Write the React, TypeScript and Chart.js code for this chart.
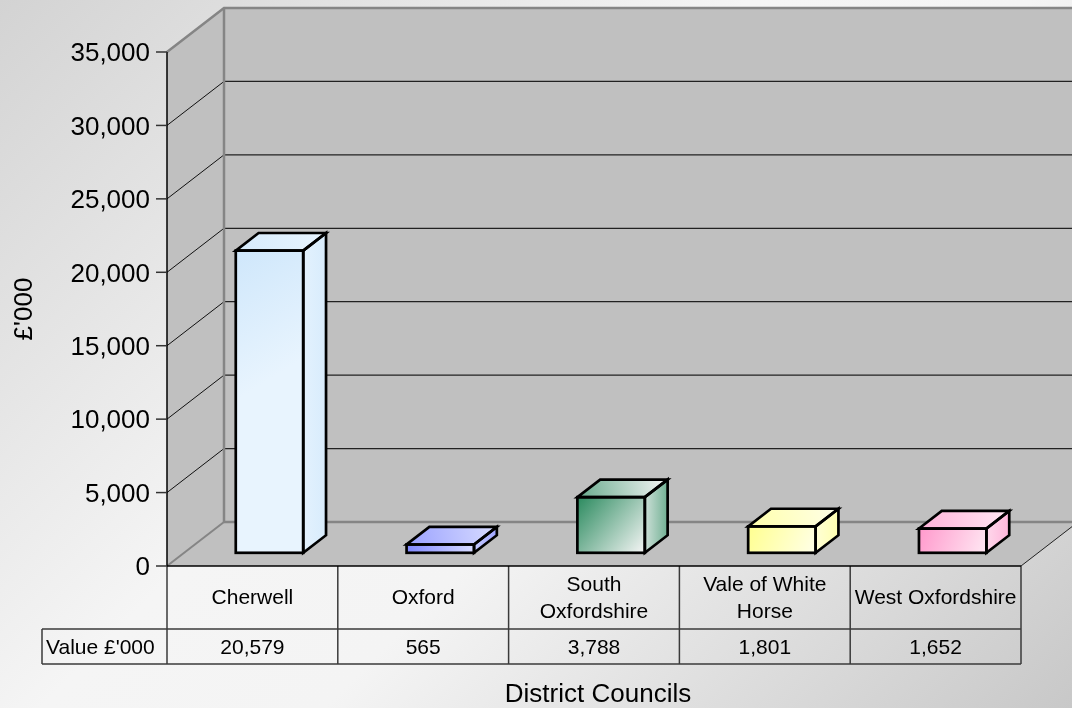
import { useEffect, useRef } from 'react';
import { Chart, registerables } from 'chart.js';

Chart.register(...registerables);

// ---- data ----
const categories = ['Cherwell', 'Oxford', 'South Oxfordshire', 'Vale of White Horse', 'West Oxfordshire'];
const values = [20579, 565, 3788, 1801, 1652];
const seriesLabel = "Value £'000";
const yTitle = "£'000";
const xTitle = 'District Councils';
const yMin = 0;
const yMax = 35000;
const yStep = 5000;
const barBase = ['#cfe7fb', '#8088ff', '#2a8a5e', '#ffff90', '#ff99cc'];
const barLight = ['#e8f4fe', '#d8dcff', '#f6f6f6', '#ffffe8', '#ffe8f3'];

const FONT = '"Liberation Sans", Arial, Helvetica, sans-serif';
const DX = 57;
const DY = -44;
const FRONT = 0.3;
const DEPTH = 0.4;

function mix(a: string, b: string, t: number) {
  const pa = parseInt(a.slice(1), 16);
  const pb = parseInt(b.slice(1), 16);
  const ch = (p: number, s: number) => (p >> s) & 255;
  const r = Math.round(ch(pa, 16) * (1 - t) + ch(pb, 16) * t);
  const g = Math.round(ch(pa, 8) * (1 - t) + ch(pb, 8) * t);
  const bl = Math.round(ch(pa, 0) * (1 - t) + ch(pb, 0) * t);
  return `rgb(${r},${g},${bl})`;
}

function poly(ctx: CanvasRenderingContext2D, pts: number[][]) {
  ctx.beginPath();
  ctx.moveTo(pts[0][0], pts[0][1]);
  for (let i = 1; i < pts.length; i++) ctx.lineTo(pts[i][0], pts[i][1]);
  ctx.closePath();
}

function line(ctx: CanvasRenderingContext2D, x1: number, y1: number, x2: number, y2: number) {
  ctx.beginPath();
  ctx.moveTo(x1, y1);
  ctx.lineTo(x2, y2);
  ctx.stroke();
}

function wrap(ctx: CanvasRenderingContext2D, text: string, maxW: number) {
  const words = text.split(' ');
  const lines: string[] = [];
  let cur = '';
  for (const w of words) {
    const test = cur ? cur + ' ' + w : w;
    if (cur && ctx.measureText(test).width > maxW) {
      lines.push(cur);
      cur = w;
    } else cur = test;
  }
  if (cur) lines.push(cur);
  return lines;
}

const threeD = {
  id: 'threeD',
  beforeDraw(chart: any) {
    const { ctx, width, height } = chart;
    ctx.save();
    const g = ctx.createLinearGradient(0, 0, 890, 890);
    g.addColorStop(0, '#d3d3d3');
    g.addColorStop(0.42, '#f5f5f5');
    g.addColorStop(0.58, '#f4f4f4');
    g.addColorStop(1, '#c8c8c8');
    ctx.fillStyle = g;
    ctx.fillRect(0, 0, width, height);
    ctx.restore();
  },
  beforeDatasetsDraw(chart: any) {
    const { ctx, chartArea: a, scales } = chart;
    const y = scales.y;
    const L = a.left, R = a.right, T = a.top, B = a.bottom;
    const W = chart.width + 20;
    ctx.save();
    ctx.fillStyle = '#c0c0c0';
    ctx.fillRect(L + DX, T + DY, W - (L + DX), B - T);
    poly(ctx, [[L, T], [L + DX, T + DY], [L + DX, B + DY], [L, B]]);
    ctx.fill();
    poly(ctx, [[L, B], [R, B], [R + DX, B + DY], [L + DX, B + DY]]);
    ctx.fill();

    // grid lines
    for (const t of y.ticks) {
      const v = t.value;
      if (v <= yMin || v >= yMax) continue;
      const py = y.getPixelForValue(v);
      ctx.strokeStyle = '#222';
      ctx.lineWidth = 1.3;
      line(ctx, L + DX, py + DY, W, py + DY);
      ctx.strokeStyle = '#111';
      ctx.lineWidth = 1;
      line(ctx, L, py, L + DX, py + DY);
    }
    // gray wall borders
    ctx.strokeStyle = '#858585';
    ctx.lineWidth = 2.5;
    ctx.beginPath();
    ctx.moveTo(L, T);
    ctx.lineTo(L + DX, T + DY);
    ctx.lineTo(W, T + DY);
    ctx.stroke();
    line(ctx, L + DX, T + DY, L + DX, B + DY);
    line(ctx, L + DX, B + DY, W, B + DY);
    ctx.lineWidth = 2;
    line(ctx, L, B, L + DX, B + DY);
    // floor right edge
    ctx.strokeStyle = '#222';
    ctx.lineWidth = 1;
    line(ctx, R, B, R + DX, B + DY);
    ctx.restore();
  },
  afterDatasetsDraw(chart: any) {
    const { ctx } = chart;
    const meta = chart.getDatasetMeta(0);
    const fx = DX * FRONT, fy = DY * FRONT, dx = DX * DEPTH, dy = DY * DEPTH;
    ctx.save();
    ctx.lineJoin = 'miter';
    meta.data.forEach((el: any, i: number) => {
      const p = el.getProps(['x', 'y', 'base', 'width'], true);
      const x0 = p.x - p.width / 2 + fx;
      const x1 = p.x + p.width / 2 + fx;
      const yt = p.y + fy;
      const yb = p.base + fy;
      const base = barBase[i % barBase.length];
      const light = barLight[i % barLight.length];

      // front
      const span = Math.min(yb - yt, (x1 - x0) * 1.6);
      const gf = ctx.createLinearGradient(x0, yt, x1, yt + span);
      gf.addColorStop(0, base);
      gf.addColorStop(1, light);
      ctx.fillStyle = gf;
      ctx.fillRect(x0, yt, x1 - x0, yb - yt);
      // top
      const gt = ctx.createLinearGradient(x0, yt, x1 + dx, yt + dy);
      gt.addColorStop(0, mix(base, light, 0.3));
      gt.addColorStop(1, light);
      poly(ctx, [[x0, yt], [x1, yt], [x1 + dx, yt + dy], [x0 + dx, yt + dy]]);
      ctx.fillStyle = gt;
      ctx.fill();
      // side
      const gs = ctx.createLinearGradient(x1, yt, x1 + dx, yt);
      gs.addColorStop(0, mix(base, light, 0.8));
      gs.addColorStop(1, mix(base, light, 0.35));
      poly(ctx, [[x1, yt], [x1 + dx, yt + dy], [x1 + dx, yb + dy], [x1, yb]]);
      ctx.fillStyle = gs;
      ctx.fill();

      // outlines
      ctx.strokeStyle = '#000';
      ctx.lineWidth = 2.7;
      ctx.strokeRect(x0, yt, x1 - x0, yb - yt);
      poly(ctx, [[x0, yt], [x1, yt], [x1 + dx, yt + dy], [x0 + dx, yt + dy]]);
      ctx.stroke();
      poly(ctx, [[x1, yt], [x1 + dx, yt + dy], [x1 + dx, yb + dy], [x1, yb]]);
      ctx.stroke();
    });
    ctx.restore();
  },
  afterDraw(chart: any) {
    const { ctx, chartArea: a, scales } = chart;
    const y = scales.y;
    const x = scales.x;
    const L = a.left, R = a.right, T = a.top, B = a.bottom;
    ctx.save();

    // front axis line
    ctx.strokeStyle = '#000';
    ctx.lineWidth = 1.5;
    line(ctx, L, T, L, B);
    // ticks and labels
    ctx.font = `26px ${FONT}`;
    ctx.fillStyle = '#000';
    ctx.textAlign = 'right';
    ctx.textBaseline = 'alphabetic';
    for (const t of y.ticks) {
      const py = y.getPixelForValue(t.value);
      ctx.strokeStyle = '#333';
      ctx.lineWidth = 1.5;
      line(ctx, L - 11, py, L, py);
      ctx.fillText(Number(t.value).toLocaleString('en-GB'), L - 17, py + 9.3);
    }

    // y title
    ctx.save();
    ctx.translate(32, (T + B) / 2 + 0);
    ctx.rotate(-Math.PI / 2);
    ctx.textAlign = 'center';
    ctx.fillText(yTitle, 0, 0);
    ctx.restore();

    // table
    const n = categories.length;
    const slot = (R - L) / n;
    const r1b = B + 63;
    const r2b = B + 98;
    const labelLeft = 42;
    ctx.strokeStyle = '#3a3a3a';
    ctx.lineWidth = 1.5;
    line(ctx, labelLeft, r1b, R, r1b);
    line(ctx, labelLeft, r2b, R, r2b);
    line(ctx, labelLeft, r1b, labelLeft, r2b);
    for (let i = 0; i < n; i++) {
      const cx = x.getPixelForValue(i);
      line(ctx, cx - slot / 2, B, cx - slot / 2, r2b);
      if (i === n - 1) line(ctx, cx + slot / 2, B, cx + slot / 2, r2b);
    }
    ctx.strokeStyle = '#000';
    ctx.lineWidth = 1.5;
    line(ctx, L, B, R, B);

    ctx.font = `21px ${FONT}`;
    ctx.fillStyle = '#000';
    ctx.textAlign = 'center';
    const capHalf = 0.358 * 21;
    for (let i = 0; i < n; i++) {
      const cx = x.getPixelForValue(i);
      const lines = wrap(ctx, categories[i], slot - 3);
      const lh = 27;
      const mid = (B + r1b) / 2 - 1;
      const start = mid - ((lines.length - 1) * lh) / 2;
      lines.forEach((ln, k) => ctx.fillText(ln, cx, start + k * lh + capHalf));
      ctx.fillText(values[i].toLocaleString('en-GB'), cx, (r1b + r2b) / 2 + capHalf);
    }
    ctx.textAlign = 'left';
    ctx.fillText(seriesLabel, labelLeft + 4, (r1b + r2b) / 2 + capHalf);

    // x title
    ctx.font = `26px ${FONT}`;
    ctx.textAlign = 'center';
    ctx.fillText(xTitle, (L + R) / 2 + 4, 702);
    ctx.restore();
  },
};

export default function App() {
  const ref = useRef<HTMLCanvasElement>(null);
  useEffect(() => {
    document.body.style.margin = '0';
    const chart = new Chart(ref.current as HTMLCanvasElement, {
      type: 'bar',
      data: {
        labels: categories,
        datasets: [
          {
            label: seriesLabel,
            data: values,
            backgroundColor: 'rgba(0,0,0,0)',
            borderWidth: 0,
            barPercentage: 0.395,
            categoryPercentage: 1,
          },
        ],
      },
      options: {
        responsive: false,
        animation: false,
        events: [],
        layout: { padding: { left: 167, right: 51, top: 52, bottom: 142 } },
        plugins: { legend: { display: false }, tooltip: { enabled: false } },
        scales: {
          x: { type: 'category', display: false, offset: true },
          y: { display: false, min: yMin, max: yMax, ticks: { stepSize: yStep } },
        },
      },
      plugins: [threeD],
    } as any);
    return () => chart.destroy();
  }, []);
  return (
    <div style={{ position: 'absolute', left: 0, top: 0, width: 1072, height: 708 }}>
      <canvas ref={ref} width={1072} height={708} style={{ display: 'block', width: 1072, height: 708 }} />
    </div>
  );
}
